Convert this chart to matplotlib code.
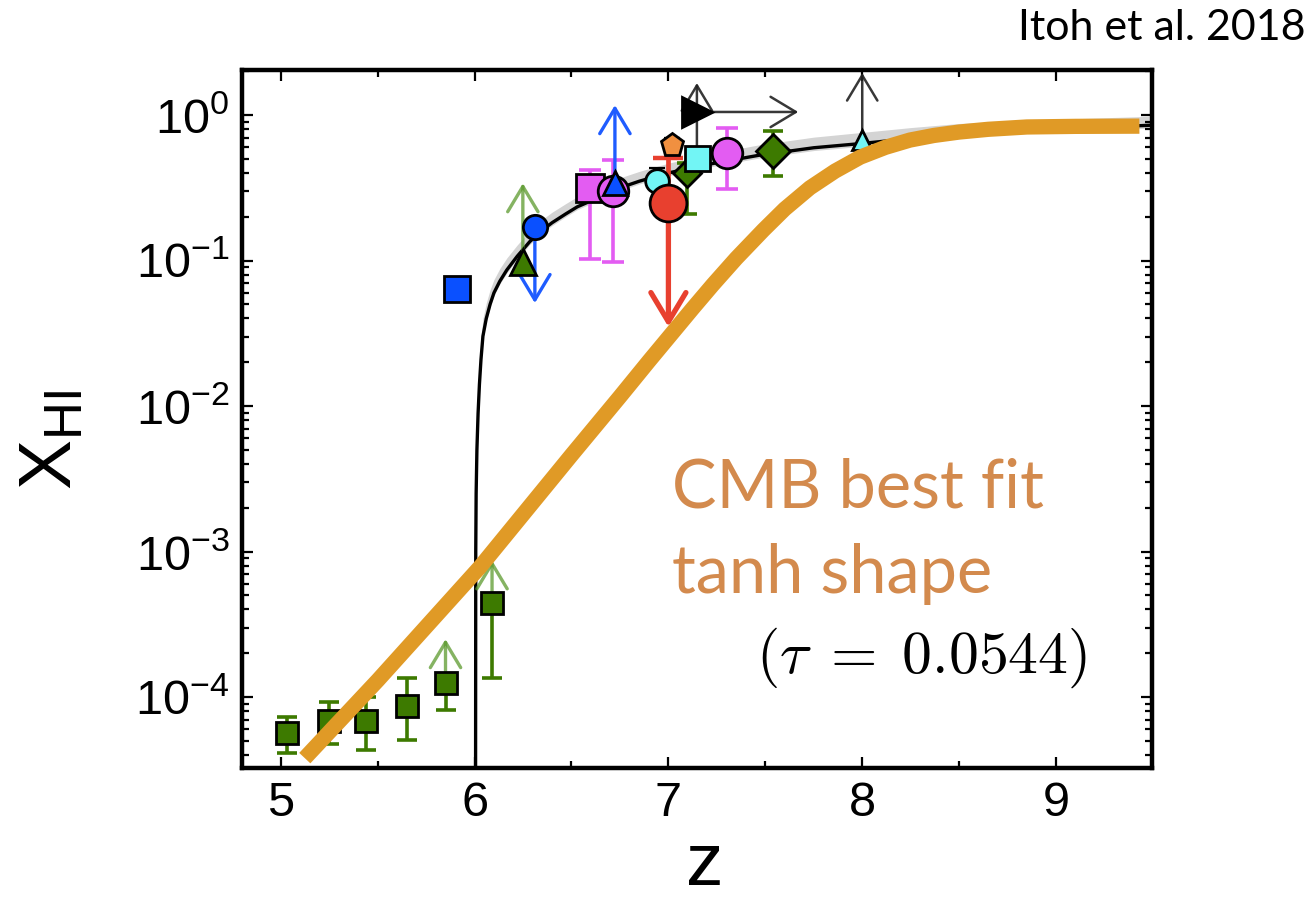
import matplotlib
matplotlib.use("Agg")
import matplotlib.pyplot as plt
from matplotlib.ticker import FixedLocator, LogLocator, NullFormatter

plt.rcParams["font.family"] = ["Liberation Sans", "DejaVu Sans"]
plt.rcParams["mathtext.fontset"] = "cm"

# ---------------- data ----------------
# model curve (black) and its grey band
model_z = [6.005, 6.006, 6.008, 6.012, 6.018, 6.025, 6.033, 6.043, 6.06, 6.08,
           6.10, 6.13, 6.166, 6.22, 6.285, 6.35, 6.40, 6.47, 6.53, 6.60, 6.66,
           6.75, 6.85, 7.0, 7.2, 7.47, 7.75, 8.0, 8.25, 8.5, 9.0, 9.48]
model_x = [2.0e-5, 1.0e-3, 2.5e-3, 5.0e-3, 8.9e-3, 1.41e-2, 2.09e-2, 3.02e-2,
           3.98e-2, 5.0e-2, 6.0e-2, 7.2e-2, 8.6e-2, 0.107, 0.135, 0.162,
           0.182, 0.209, 0.234, 0.257, 0.282, 0.316, 0.351, 0.40, 0.457, 0.53,
           0.596, 0.638, 0.69, 0.74, 0.80, 0.85]
band_lo = [2.0e-5, 1.0e-3, 2.4e-3, 4.8e-3, 8.5e-3, 1.35e-2, 2.0e-2, 2.9e-2,
           3.8e-2, 4.8e-2, 5.75e-2, 6.9e-2, 8.2e-2, 0.102, 0.129, 0.155,
           0.174, 0.200, 0.224, 0.246, 0.270, 0.302, 0.336, 0.383, 0.437, 0.507,
           0.570, 0.610, 0.660, 0.708, 0.765, 0.813]
band_hi = [2.0e-5, 1.4e-3, 3.6e-3, 7.2e-3, 1.28e-2, 2.0e-2, 2.9e-2, 4.0e-2,
           5.1e-2, 6.3e-2, 7.4e-2, 8.8e-2, 0.104, 0.128, 0.160, 0.192,
           0.215, 0.246, 0.275, 0.302, 0.330, 0.370, 0.410, 0.467, 0.535, 0.625,
           0.705, 0.760, 0.820, 0.875, 0.935, 0.98]

# CMB best-fit tanh curve (orange)
tanh_z = [5.124, 5.5, 6.027, 6.5, 6.75, 6.9, 7.05, 7.126, 7.23, 7.35, 7.49,
          7.6, 7.73, 7.86, 7.99, 8.12, 8.246, 8.37, 8.5, 8.65, 8.85, 9.1, 9.43]
tanh_x = [3.8e-5, 1.3e-4, 7.8e-4, 4.6e-3, 1.16e-2, 2.04e-2, 3.55e-2, 4.7e-2,
          6.84e-2, 0.1035, 0.162, 0.226, 0.316, 0.412, 0.514, 0.600, 0.673,
          0.724, 0.764, 0.798, 0.828, 0.836, 0.839]

# Gunn-Peterson measurements (green squares)
gp_z = [5.03, 5.25, 5.44, 5.65, 5.85, 6.09]
gp_x = [5.7e-5, 6.8e-5, 6.8e-5, 8.7e-5, 1.25e-4, 4.4e-4]
gp_lo = [4.1e-5, 4.75e-5, 4.3e-5, 5.1e-5, 8.1e-5, 1.35e-4]
gp_hi = [7.3e-5, 9.2e-5, 1.0e-4, 1.35e-4, 1.25e-4, 4.4e-4]

# other constraints
blue_sq_z, blue_sq_x = [5.908], [0.0637]
green_tri_z, green_tri_x = [6.249], [0.098]
blue_circ_z, blue_circ_x = [6.311], [0.17]
mag_sq_z, mag_sq_x, mag_sq_lo, mag_sq_hi = [6.595], [0.315], [0.102], [0.42]
mag_circ_z = [6.714, 7.302]
mag_circ_x = [0.30, 0.548]
mag_circ_lo = [0.098, 0.31]
mag_circ_hi = [0.49, 0.81]
blue_tri_z, blue_tri_x = [6.724], [0.34]
cyan_circ_z, cyan_circ_x, cyan_circ_hi = [6.94], [0.35], [0.43]
green_dia_s_z, green_dia_s_x, green_dia_s_lo, green_dia_s_hi = [7.095], [0.40], [0.21], [0.47]
pent_z, pent_x, pent_hi = [7.02], [0.62], [0.70]
red_z, red_x, red_hi = [7.0], [0.25], [0.51]
cyan_sq_z, cyan_sq_x = [7.147], [0.51]
black_tri_z, black_tri_x = [7.15], [1.05]
green_dia_z, green_dia_x, green_dia_lo, green_dia_hi = [7.54], [0.566], [0.38], [0.78]
cyan_tri_z, cyan_tri_x = [8.0], [0.67]

# limit arrows: start (z, x) -> end (z, x)
arrow_z0 = [5.85, 6.09, 6.249, 6.311, 6.724, 7.0, 7.147, 7.15, 8.0]
arrow_x0 = [1.25e-4, 4.4e-4, 0.098, 0.17, 0.34, 0.25, 0.51, 1.05, 0.67]
arrow_z1 = [5.85, 6.09, 6.249, 6.311, 6.724, 7.0, 7.147, 7.67, 8.0]
arrow_x1 = [2.5e-4, 8.7e-4, 0.34, 0.051, 1.17, 0.035, 1.66, 1.05, 1.95]
arrow_col = ["#5C9A2E", "#5C9A2E", "#5C9A2E", "#1F5CFF", "#1F5CFF",
             "#E8402F", "#222222", "#222222", "#222222"]
arrow_alpha = [0.75, 0.75, 0.75, 1.0, 1.0, 1.0, 0.9, 0.9, 0.9]
arrow_lw = [2.4, 2.4, 2.4, 2.4, 2.4, 3.8, 1.8, 1.8, 1.8]

x_ticks = [5, 6, 7, 8, 9]

# ---------------- figure ----------------
W, H = 1313, 901
fig = plt.figure(figsize=(W / 100, H / 100), dpi=100)
ax = fig.add_axes([242 / W, 1 - 768 / H, (1152 - 242) / W, (768 - 70) / H])
ax.set_yscale("log")
ax.set_xlim(4.8, 9.495)
ax.set_ylim(3.25e-5, 2.04)

GREEN = "#3D7A00"
BLUE = "#0A50FF"
MAG = "#E35CF2"
CYAN = "#72F5F5"
RED = "#E8402F"
ORANGE_PT = "#F09040"
EW = 2.0

ax.fill_between(model_z, band_lo, band_hi, color="#D4D4D4", lw=0, zorder=1)
ax.plot(model_z, model_x, color="black", lw=2.4, zorder=2,
        solid_joinstyle="round")


def errs(x, lo, hi):
    return [[xi - l for xi, l in zip(x, lo)], [h - xi for xi, h in zip(x, hi)]]


eb = dict(fmt="none", elinewidth=2.6, capthick=2.6, zorder=3)
ax.errorbar(gp_z, gp_x, yerr=errs(gp_x, gp_lo, gp_hi), ecolor=GREEN, capsize=7.5, **eb)
ax.errorbar(mag_sq_z, mag_sq_x, yerr=errs(mag_sq_x, mag_sq_lo, mag_sq_hi),
            ecolor=MAG, capsize=8, **eb)
ax.errorbar(mag_circ_z, mag_circ_x, yerr=errs(mag_circ_x, mag_circ_lo, mag_circ_hi),
            ecolor=MAG, capsize=8, **eb)
ax.errorbar(green_dia_z, green_dia_x, yerr=errs(green_dia_x, green_dia_lo, green_dia_hi),
            ecolor=GREEN, capsize=7.5, **eb)
ax.errorbar(green_dia_s_z, green_dia_s_x,
            yerr=errs(green_dia_s_x, green_dia_s_lo, green_dia_s_hi),
            ecolor=GREEN, capsize=7.5, **eb)
ax.errorbar(red_z, red_x, yerr=errs(red_x, red_x, red_hi), fmt="none",
            ecolor=RED, elinewidth=3.4, capsize=11, capthick=3.2, zorder=3)
ax.errorbar(cyan_circ_z, cyan_circ_x, yerr=errs(cyan_circ_x, cyan_circ_x, cyan_circ_hi),
            fmt="none", ecolor="black", elinewidth=1.6, capsize=6, capthick=1.6, zorder=3)
ax.errorbar(pent_z, pent_x, yerr=errs(pent_x, pent_x, pent_hi), fmt="none",
            ecolor="black", elinewidth=1.6, capsize=6, capthick=1.6, zorder=3)

for z0, x0, z1, x1, c, lw, a in zip(arrow_z0, arrow_x0, arrow_z1, arrow_x1,
                                     arrow_col, arrow_lw, arrow_alpha):
    scale = 30 if lw > 3 else 26
    ax.annotate("", xy=(z1, x1), xytext=(z0, x0),
                arrowprops=dict(arrowstyle="->,head_length=0.7,head_width=0.42",
                                color=c, lw=lw, shrinkA=0, shrinkB=0,
                                mutation_scale=scale, alpha=a),
                zorder=3)

mk = dict(linestyle="none", markeredgecolor="black", markeredgewidth=EW, zorder=4)
ax.plot(gp_z, gp_x, marker="s", ms=16.5, markerfacecolor=GREEN, **mk)
ax.plot(blue_sq_z, blue_sq_x, marker="s", ms=19, markerfacecolor=BLUE, **mk)
ax.plot(green_tri_z, green_tri_x, marker="^", ms=19, markerfacecolor=GREEN, **mk)
ax.plot(blue_circ_z, blue_circ_x, marker="o", ms=17.5, markerfacecolor=BLUE, **mk)
ax.plot(mag_sq_z, mag_sq_x, marker="s", ms=20, markerfacecolor=MAG, **mk)
ax.plot(mag_circ_z, mag_circ_x, marker="o", ms=22, markerfacecolor=MAG, **mk)
ax.plot(blue_tri_z, blue_tri_x, marker="^", ms=17, markerfacecolor=BLUE, **mk)
ax.plot(cyan_circ_z, cyan_circ_x, marker="o", ms=17, markerfacecolor=CYAN, **mk)
ax.plot(green_dia_s_z, green_dia_s_x, marker="D", ms=14.5, markerfacecolor=GREEN, **mk)
ax.plot(pent_z, pent_x, marker="p", ms=17, markerfacecolor=ORANGE_PT, **mk)
ax.plot(red_z, red_x, marker="o", ms=26.5, markerfacecolor=RED, **mk)
ax.plot(cyan_sq_z, cyan_sq_x, marker="s", ms=18, markerfacecolor=CYAN, **mk)
ax.plot(black_tri_z, black_tri_x, marker=">", ms=22, markerfacecolor="black", **mk)
ax.plot(green_dia_z, green_dia_x, marker="D", ms=17.5, markerfacecolor=GREEN, **mk)
ax.plot(cyan_tri_z, cyan_tri_x, marker="^", ms=15, markerfacecolor=CYAN, **mk)

ax.plot(tanh_z, tanh_x, color="#E09A26", lw=11, solid_capstyle="butt",
        solid_joinstyle="round", zorder=6)

ax.xaxis.set_major_locator(FixedLocator(x_ticks))
ax.xaxis.set_minor_locator(FixedLocator([4.5 + i * 0.5 for i in range(0, 11)]))
ax.yaxis.set_major_locator(LogLocator(base=10, numticks=20))
ax.yaxis.set_minor_locator(LogLocator(base=10, subs=range(2, 10), numticks=20))
ax.yaxis.set_minor_formatter(NullFormatter())
ax.tick_params(which="both", direction="in", top=True, right=True,
               labelsize=35, width=1.6, pad=9)
ax.tick_params(which="major", length=8)
ax.tick_params(which="minor", length=5)
for s in ax.spines.values():
    s.set_linewidth(3.2)

fig.text(52 / W, 1 - 440 / H, r"$\mathregular{X_{HI}}$", rotation=90,
         fontsize=54, ha="center", va="center")
fig.text(705 / W, 1 - 885 / H, "z", fontsize=54, ha="center", va="baseline")

fig.text(1306 / W, 1 - 40 / H, "Itoh et al. 2018", family=["Lato", "DejaVu Sans"],
         fontsize=31, ha="right", va="baseline")
fig.text(672 / W, 1 - 508 / H, "CMB best fit", family=["Lato", "DejaVu Sans"],
         fontsize=48, color="#D38A4D", ha="left", va="baseline")
fig.text(672 / W, 1 - 593 / H, "tanh shape", family=["Lato", "DejaVu Sans"],
         fontsize=48, color="#D38A4D", ha="left", va="baseline")
fig.text(756 / W, 1 - 673 / H, r"$(\tau\;=\;0.0544)$",
         fontsize=43, ha="left", va="baseline")

fig.savefig("out.png", dpi=100)
